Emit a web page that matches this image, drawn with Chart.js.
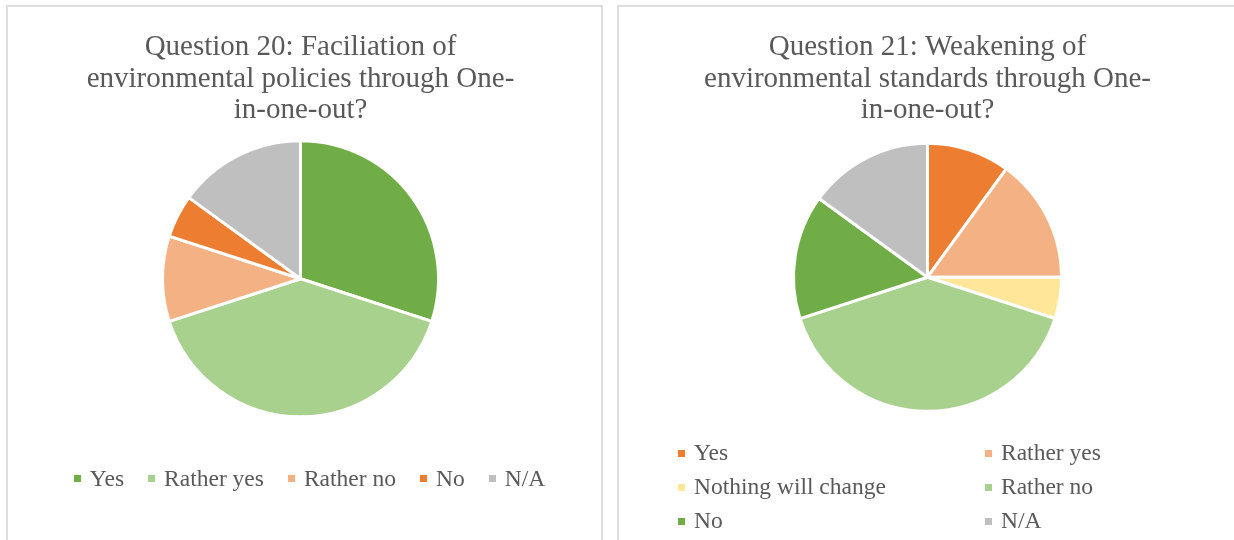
<!DOCTYPE html>
<html>
<head>
<meta charset="utf-8">
<script src="https://cdn.jsdelivr.net/npm/chart.js@4.4.1/dist/chart.umd.min.js"></script>
<style>
    body {
        margin: 0;
        width: 1234px;
        height: 540px;
        overflow: hidden;
        background: #ffffff;
        font-family: "Liberation Serif", "Times New Roman", serif;
    }
    .panel {
        position: absolute;
        top: 5px;
        height: 560px;
        box-sizing: border-box;
        border: 2px solid #dedede;
    }
    canvas {
        position: absolute;
    }
    .legend {
        position: absolute;
        color: #595959;
        font-size: 23.5px;
        line-height: 1;
    }
    .legend .item {
        display: flex;
        align-items: center;
        white-space: nowrap;
    }
    .legend .box {
        width: 7px;
        height: 7px;
        margin-right: 9px;
    }
    #legend20 {
        left: 13px;
        width: 593px;
        top: 467px;
        display: flex;
        justify-content: center;
        gap: 24px;
    }
    #legend21 {
        left: 678px;
        top: 436px;
        display: grid;
        grid-template-columns: 307px auto;
        grid-auto-rows: 34px;
    }
</style>
</head>
<body>
<div class="panel" style="left:6px;width:597px;"></div>
<div class="panel" style="left:617px;width:630px;"></div>
<canvas id="chart20" width="593" height="533" style="left:8px;top:7px;"></canvas>
<canvas id="chart21" width="615" height="533" style="left:619px;top:7px;"></canvas>
<div class="legend" id="legend20"></div>
<div class="legend" id="legend21"></div>

<script>
// Question 20
const labels20 = ['Yes', 'Rather yes', 'Rather no', 'No', 'N/A'];
const values20 = [30, 40, 10, 5, 15];
const colors20 = ['#70AD47', '#A9D18E', '#F4B183', '#ED7D31', '#BFBFBF'];
const title20 = ['Question 20: Faciliation of', 'environmental policies through One-', 'in-one-out?'];

// Question 21
const labels21 = ['Yes', 'Rather yes', 'Nothing will change', 'Rather no', 'No', 'N/A'];
const values21 = [10, 15, 5, 40, 15, 15];
const colors21 = ['#ED7D31', '#F4B183', '#FFE699', '#A9D18E', '#70AD47', '#BFBFBF'];
const title21 = ['Question 21: Weakening of', 'environmental standards through One-', 'in-one-out?'];

const serif = '"Liberation Serif", "Times New Roman", serif';

function renderPie(canvasId, labels, values, colors, title, radius, padding) {
    const ctx = document.getElementById(canvasId).getContext('2d');
    new Chart(ctx, {
        type: 'pie',
        data: {
            labels: labels,
            datasets: [{
                data: values,
                backgroundColor: colors,
                borderColor: '#ffffff',
                borderWidth: 3,
            }]
        },
        options: {
            responsive: false,
            animation: false,
            radius: radius,
            layout: {
                padding: padding,
            },
            plugins: {
                legend: {
                    display: false,
                },
                tooltip: {
                    enabled: false,
                },
                title: {
                    display: true,
                    text: title,
                    color: '#595959',
                    font: {
                        family: serif,
                        size: 29,
                        weight: 'normal',
                        lineHeight: 1.086,
                    },
                    padding: {
                        top: 25,
                        bottom: 7,
                    },
                },
            },
        }
    });
}

function renderLegend(containerId, labels, colors) {
    const container = document.getElementById(containerId);
    container.innerHTML = labels.map((label, i) => `
        <div class="item">
            <span class="box" style="background:${colors[i]}"></span>
            <span>${label}</span>
        </div>
    `).join('');
}

renderPie('chart20', labels20, values20, colors20, title20, 138, {left: 0, right: 8, top: 0, bottom: 116});
renderPie('chart21', labels21, values21, colors21, title21, 134, {left: 2, right: 0, top: 0, bottom: 119});
renderLegend('legend20', labels20, colors20);
renderLegend('legend21', labels21, colors21);
</script>
</body>
</html>
